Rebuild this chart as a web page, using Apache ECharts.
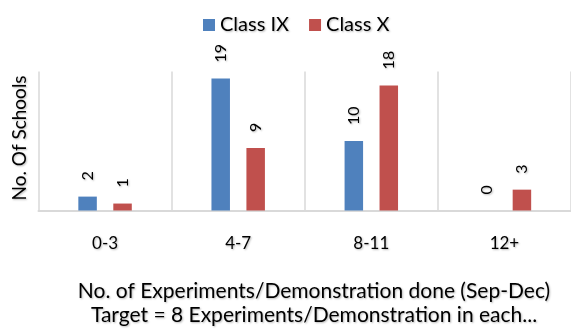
<!DOCTYPE html>
<html>
<head>
<meta charset="utf-8">
<script src="https://cdn.jsdelivr.net/npm/echarts@6/dist/echarts.min.js"></script>
<style>
  html, body { margin: 0; padding: 0; background: #fff; }
  #chart { width: 571px; height: 329px; }
</style>
</head>
<body>
<div id="chart"></div>
<script>
// Number of experiments/demonstrations done, grouped in ranges
const categories = ['0-3', '4-7', '8-11', '12+'];
const classIX = [2, 19, 10, 0];
const classX = [1, 9, 18, 3];
const seriesNames = ['Class IX', 'Class X'];
const yAxisTitle = 'No. Of Schools';
const xAxisTitle = 'No. of Experiments/Demonstration done (Sep-Dec)\nTarget = 8 Experiments/Demonstration in each...';

const FONT = 'Lato, "Open Sans", sans-serif';
const shadow = { textShadowColor: 'rgba(0,0,0,0.28)', textShadowBlur: 2, textShadowOffsetX: 1, textShadowOffsetY: 1 };

const chart = echarts.init(document.getElementById('chart'), null, { renderer: 'canvas' });

function barLabel() {
  return Object.assign({
    show: true,
    position: 'top',
    rotate: 90,
    align: 'left',
    verticalAlign: 'middle',
    distance: 16,
    fontFamily: FONT,
    fontSize: 16,
    color: '#000'
  }, shadow);
}

chart.setOption({
  animation: false,
  textStyle: { fontFamily: FONT },
  legend: {
    top: 10,
    left: 198,
    itemWidth: 12,
    itemHeight: 12,
    itemGap: 20,
    icon: 'rect',
    textStyle: Object.assign({ fontFamily: FONT, fontSize: 20, color: '#000' }, shadow),
    data: seriesNames
  },
  title: {
    text: xAxisTitle,
    left: 309,
    top: 274,
    textAlign: 'center',
    textStyle: Object.assign({ fontFamily: FONT, fontSize: 21, fontWeight: 'normal', color: '#000', lineHeight: 24 }, shadow)
  },
  grid: { left: 38.5, top: 71.5, width: 540, height: 139, containLabel: false },
  xAxis: {
    type: 'category',
    data: categories,
    axisLine: { show: true, lineStyle: { color: '#d9d9d9', width: 2 } },
    axisTick: { show: false },
    axisLabel: Object.assign({ fontFamily: FONT, fontSize: 17, color: '#000', margin: 25 }, shadow),
    splitLine: { show: true, lineStyle: { color: '#d9d9d9', width: 1.5 } }
  },
  yAxis: {
    type: 'value',
    min: 0,
    max: 20,
    name: yAxisTitle,
    nameLocation: 'middle',
    nameRotate: 90,
    nameGap: 9,
    nameTextStyle: Object.assign({ fontFamily: FONT, fontSize: 19, color: '#000', padding: [0, 0, 0, 6] }, shadow),
    axisLine: { show: false },
    axisTick: { show: false },
    axisLabel: { show: false },
    splitLine: { show: false }
  },
  series: [
    {
      name: seriesNames[0],
      type: 'bar',
      data: classIX,
      barWidth: 18.5,
      barGap: '89%',
      itemStyle: { color: '#4F81BD' },
      label: barLabel()
    },
    {
      name: seriesNames[1],
      type: 'bar',
      data: classX,
      barWidth: 18.5,
      barGap: '89%',
      itemStyle: { color: '#C0504D' },
      label: barLabel()
    }
  ]
});
</script>
</body>
</html>
